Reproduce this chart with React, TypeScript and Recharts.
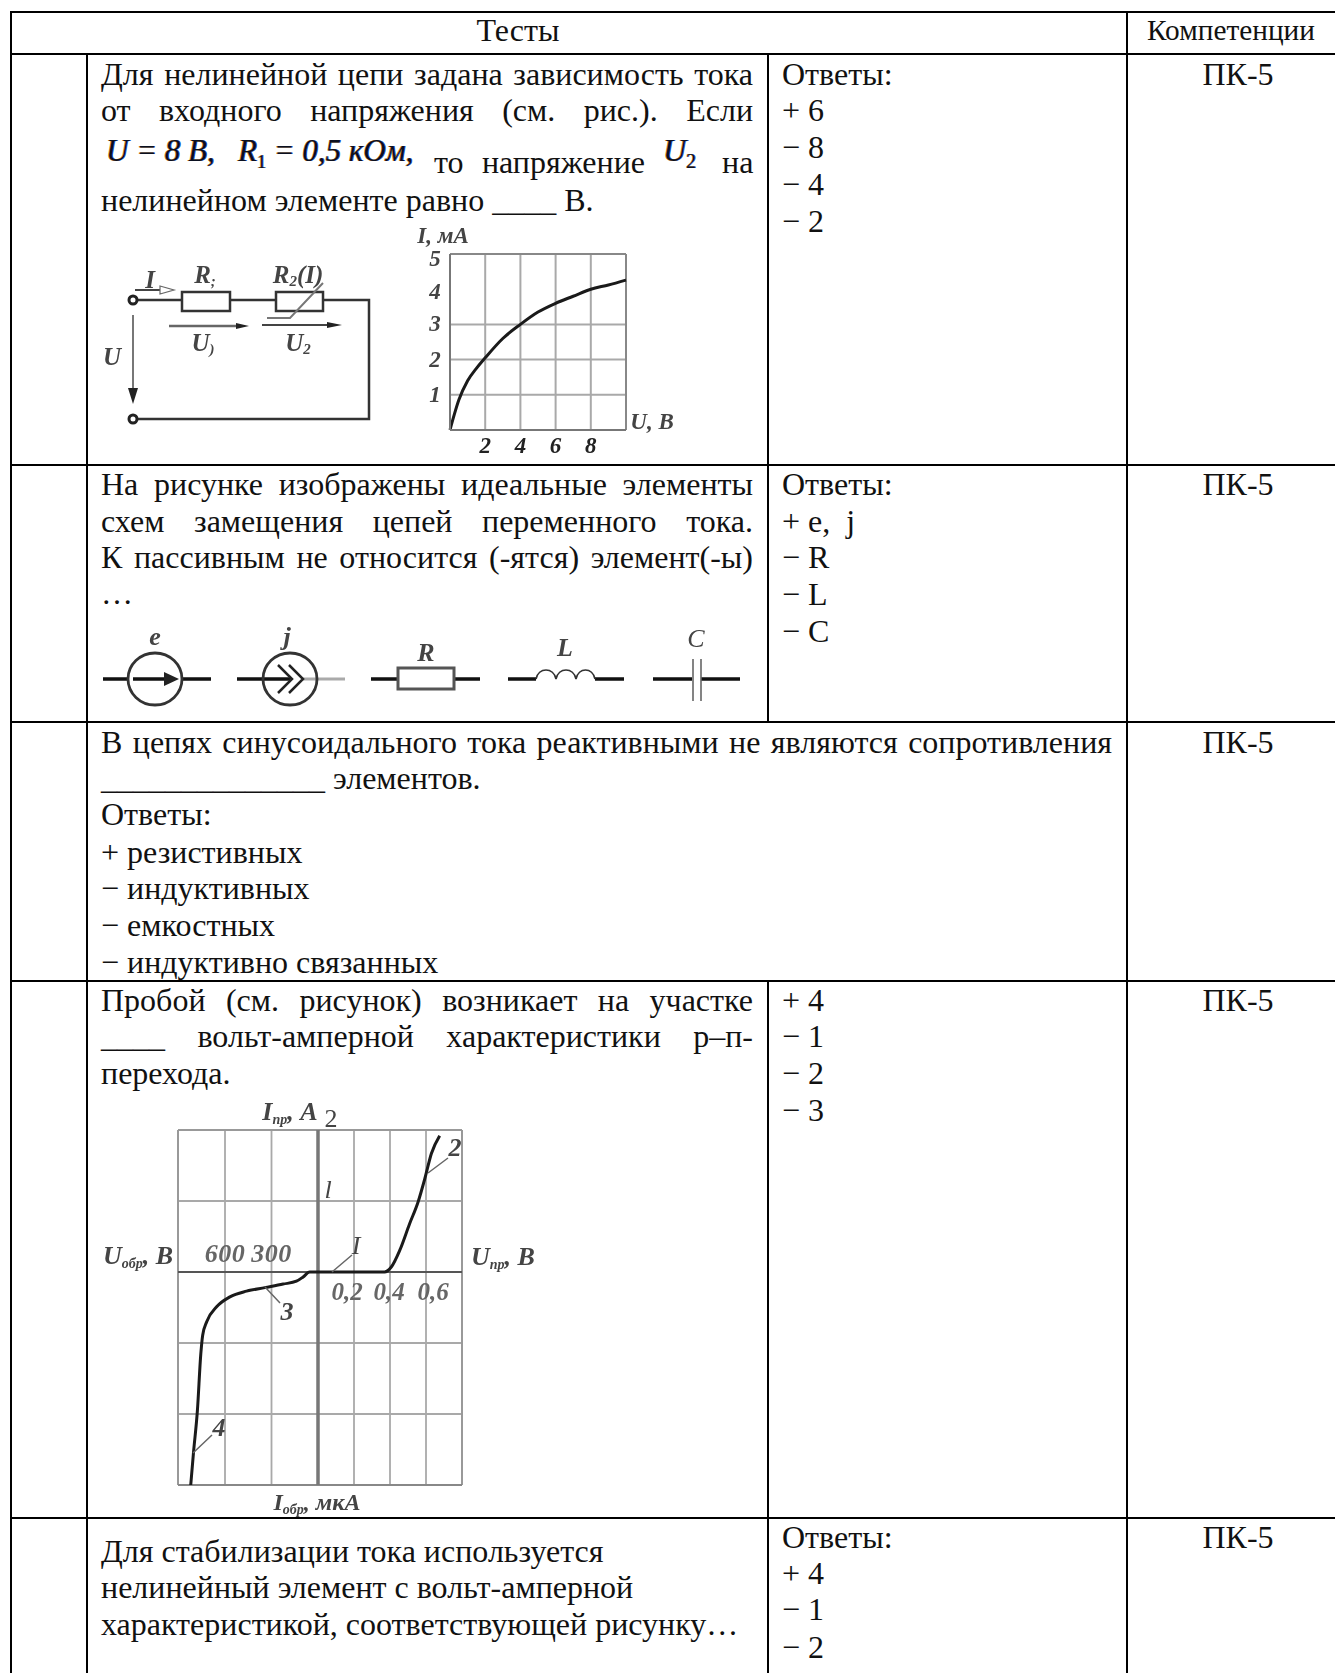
import React from "react";
import { LineChart, Line, XAxis, YAxis, CartesianGrid, ReferenceLine, ReferenceDot } from "recharts";

// Chart 1: I(U) of the nonlinear element
const curveU = [0, 0.25, 0.5, 1, 1.5, 2, 3, 4, 5, 6, 7, 8, 9, 10];
const curveI = [0, 0.45, 0.85, 1.4, 1.75, 2.05, 2.6, 3.0, 3.35, 3.6, 3.8, 4.0, 4.12, 4.26];
const xTicks1 = [2, 4, 6, 8];
const yTicks1 = [1, 2, 3, 4, 5];
const xGrid1 = [2, 4, 6, 8, 10];
const yGrid1 = [1, 2, 3, 5];

// Chart 2: p-n junction I-V (forward volts / amps, reverse volts / scale cells)
const forwardV = [0, 0.37, 0.407, 0.454, 0.509, 0.556, 0.593, 0.63, 0.676];
const forwardI = [0, 0, 0.07, 0.305, 0.68, 0.986, 1.31, 1.67, 1.92];
const reverseV = [0, 54, 96, 139, 225, 343, 461, 568, 654, 718, 744, 756, 778, 804, 821];
const reverseI = [0, 0, -0.07, -0.13, -0.17, -0.22, -0.27, -0.35, -0.49, -0.7, -0.89, -1.15, -1.95, -2.56, -3.0];
const forwardTicks = [0.2, 0.4, 0.6];
const reverseTicks = [300, 600];
const yGrid2 = [-2, -1, 1];

const posF = (v: number) => (v / 0.2) * 36;
const posR = (v: number) => (-v / 300) * 46.5;

const data1 = curveU.map((u, i) => ({ u, i: curveI[i] }));
const data2 = [
  ...reverseV.map((v, i) => ({ x: posR(v), y: reverseI[i] })).reverse(),
  ...forwardV.slice(1).map((v, i) => ({ x: posF(v), y: forwardI[i + 1] })),
];

const SERIF = "'Liberation Serif', serif";
const FS = 32;
const LH = 36;

function T({ x, y, w, c, size = FS, children }: any) {
  const style: React.CSSProperties = {
    position: "absolute",
    left: x,
    top: y - LH / 2 - 1,
    height: LH,
    lineHeight: LH + "px",
    fontSize: size,
    fontFamily: SERIF,
    color: "#111",
    whiteSpace: "pre",
  };
  if (w) {
    style.width = w;
    style.textAlign = c ? "center" : "justify";
    if (!c) (style as any).textAlignLast = "justify";
    if (!c) style.whiteSpace = "normal";
  }
  return <div style={style}>{children}</div>;
}

const PK = [75, 485, 743, 1001, 1538];
const H = [11, 53, 464, 721, 980, 1517];
const V = [10, 86, 767, 1126];

const GL = "#a9a9a9";
const LBL = { fontFamily: SERIF, fontStyle: "italic", fontWeight: 700, fill: "#444" } as const;

function Tick1X(p: any) {
  return <text x={p.x} y={p.y + 15} textAnchor="middle" fontSize={23} {...LBL} fill="#222">{p.payload.value}</text>;
}
function Tick1Y(p: any) {
  const dy = p.payload.value === 5 ? 12 : p.payload.value === 4 ? 10 : 7;
  return <text x={p.x - 7} y={p.y + dy} textAnchor="middle" fontSize={23} {...LBL}>{p.payload.value}</text>;
}
const tickDx = [-7, -1, 7];
function ForwardLabel(i: number, text: string) {
  return (p: any) => (
    <text x={p.cx + tickDx[i]} y={p.cy + 28} textAnchor="middle" fontSize={25} {...LBL} fill="#666">{text}</text>
  );
}
function ReverseLabel(text: string) {
  return (p: any) => (
    <text x={p.cx} y={p.cy - 10} textAnchor="middle" fontSize={26} letterSpacing={0.5} {...LBL} fill="#666">{text}</text>
  );
}

function Schem() {
  const S = { fontFamily: SERIF, fontStyle: "italic", fontWeight: 700, fill: "#444", textAnchor: "middle" } as any;
  return (
    <svg width={1335} height={1673} style={{ position: "absolute", left: 0, top: 0, filter: "blur(0.45px)" }} fill="none">
      {/* circuit */}
      <g stroke="#333" strokeWidth={2.5}>
        <path d="M138 300H182M230 300H276M323 300H369V419H138" />
        <circle cx={133} cy={300} r={4} stroke="#222" strokeWidth={3} />
        <circle cx={133} cy={419} r={4} stroke="#222" strokeWidth={3} />
        <rect x={182} y={292} width={48} height={19} />
        <rect x={276} y={292} width={47} height={19} />
      </g>
      <path d="M267 318H290L323 283" stroke="#777" strokeWidth={2} />
      <path d="M135 290H160" stroke="#444" strokeWidth={2} />
      <path d="M160 286L174 290L160 294Z" stroke="#666" strokeWidth={1.2} />
      <path d="M169 326H240" stroke="#666" strokeWidth={2.5} />
      <path d="M236 323L249 326L236 329Z" fill="#222" />
      <path d="M262 325H332" stroke="#444" strokeWidth={2} />
      <path d="M327 322L342 325L327 328Z" fill="#222" />
      <path d="M133 315V395" stroke="#777" strokeWidth={2} />
      <path d="M128 388L133 404L138 388Z" fill="#222" />
      <g {...S} fontSize={25}>
        <text x={150} y={288}>I</text>
        <text x={205} y={283}>R<tspan fontSize={15} dy={3}>;</tspan></text>
        <text x={298} y={283}>R<tspan fontSize={15} dy={3}>2</tspan><tspan dy={-3}>(I)</tspan></text>
        <text x={203} y={351}>U<tspan fontSize={15} dy={3}>)</tspan></text>
        <text x={298} y={351}>U<tspan fontSize={15} dy={3}>2</tspan></text>
        <text x={112} y={365}>U</text>
        <text x={443} y={243} fontSize={23}>I, мА</text>
        <text x={652} y={429} fontSize={23}>U, В</text>
      </g>
      {/* ideal elements */}
      <g stroke="#111" strokeWidth={3.5}>
        <path d="M103 679H129M183 679H211" />
        <path d="M133 679H168" />
        <path d="M237 679H290" />
        <path d="M371 679H398M454 679H480" />
        <path d="M508 679H536M595 679H624" />
        <path d="M653 679H692M701 679H740" />
      </g>
      <path d="M302 679H345" stroke="#aaa" strokeWidth={3} />
      <path d="M164 672L179 679L164 686Z" fill="#222" />
      <ellipse cx={155} cy={679} rx={27} ry={26} stroke="#333" strokeWidth={2.8} />
      <ellipse cx={290} cy={679} rx={27} ry={26} stroke="#333" strokeWidth={2.8} />
      <path d="M278 665L292 679L278 693M289 665L303 679L289 693" stroke="#222" strokeWidth={2.5} />
      <rect x={398} y={668} width={56} height={21} stroke="#555" strokeWidth={3} />
      <path d="M536 679C538 667 554 667 556 679C558 667 574 667 576 679C578 667 593 667 595 679" stroke="#333" strokeWidth={1.6} />
      <path d="M693 659V701M701 659V701" stroke="#666" strokeWidth={1.6} />
      <g {...S} fontSize={26}>
        <text x={155} y={645}>e</text>
        <text x={287} y={645}>j</text>
        <text x={426} y={661}>R</text>
        <text x={565} y={656}>L</text>
        <text x={696} y={647} fontWeight={400}>C</text>
      </g>
      {/* diode annotations */}
      <path d="M332 1272L352 1255M265 1287L280 1303M428 1173L448 1158M193 1453L212 1435" stroke="#666" strokeWidth={1.5} />
      <g {...S} fontSize={26}>
        <text x={290} y={1120}>I<tspan fontSize={14} dy={4}>пр</tspan><tspan dy={-4}>, А</tspan></text>
        <text x={331} y={1127} fontStyle="normal" fontWeight={400}>2</text>
        <text x={328} y={1198} fontWeight={400}>l</text>
        <text x={138} y={1264}>U<tspan fontSize={14} dy={4}>обр</tspan><tspan dy={-4}>, В</tspan></text>
        <text x={356} y={1254} fontWeight={400}>I</text>
        <text x={503} y={1265}>U<tspan fontSize={14} dy={4}>пр</tspan><tspan dy={-4}>, В</tspan></text>
        <text x={287} y={1320}>3</text>
        <text x={455} y={1156}>2</text>
        <text x={219} y={1436}>4</text>
        <text x={317} y={1510} fontSize={24}>I<tspan fontSize={14} dy={4}>обр</tspan><tspan dy={-4}>, мкА</tspan></text>
      </g>
    </svg>
  );
}

export default function App() {
  const formula: React.CSSProperties = {
    position: "absolute",
    fontFamily: SERIF,
    fontStyle: "italic",
    lineHeight: "36px",
    color: "#0a1020",
    whiteSpace: "pre",
    textShadow: "-0.7px 0 #d08a2a, 0.7px 0 #2a5ad0",
  };
  return (
    <div style={{ position: "absolute", left: 0, top: 0, width: 1335, height: 1673, overflow: "hidden", background: "#fff" }}>
      {H.map((y) => (
        <div key={y} style={{ position: "absolute", left: 10, top: y, width: 1325, height: 2, background: "#000" }} />
      ))}
      {V.map((x) => (
        <div key={x} style={{ position: "absolute", left: x, top: x === 10 || x === 1126 ? 11 : 54, width: 2, height: 1673, background: "#000" }} />
      ))}
      {/* the third column is merged in the row without a separate answers cell */}
      <div style={{ position: "absolute", left: 766, top: 723, width: 4, height: 257, background: "#fff" }} />

      <T x={11} y={31} w={1014} c>Тесты</T>
      <T x={1127} y={31} w={208} c size={29.3}>Компетенции</T>
      {PK.map((y) => (
        <T key={y} x={1127} y={y} w={222} c>ПК-5</T>
      ))}

      <T x={101} y={75} w={652}>Для нелинейной цепи задана зависимость тока</T>
      <T x={101} y={111} w={652}>от входного напряжения (см. рис.). Если</T>
      <div style={{ ...formula, left: 106, top: 133, fontSize: 31, fontWeight: 400 }}>
        {"U = 8 В,   R"}<sub style={{ fontSize: 18, fontStyle: "normal", lineHeight: 0 }}>1</sub>{" = 0,5 кОм,"}
      </div>
      <T x={434} y={163} w={211}>то напряжение</T>
      <div style={{ ...formula, left: 663, top: 132, fontSize: 32 }}>
        {"U"}<sub style={{ fontSize: 20, fontStyle: "normal", lineHeight: 0 }}>2</sub>
      </div>
      <T x={722} y={163}>на</T>
      <T x={101} y={201}>нелинейном элементе равно ____ В.</T>

      <T x={782} y={75}>Ответы:</T>
      <T x={782} y={111}>+ 6</T>
      <T x={782} y={148}>− 8</T>
      <T x={782} y={185}>− 4</T>
      <T x={782} y={222}>− 2</T>

      <T x={101} y={485} w={652}>На рисунке изображены идеальные элементы</T>
      <T x={101} y={522} w={652}>схем замещения цепей переменного тока.</T>
      <T x={101} y={558} w={652}>К пассивным не относится (-ятся) элемент(-ы)</T>
      <T x={101} y={594}>…</T>
      <T x={782} y={485}>Ответы:</T>
      <T x={782} y={522}>+ e,  j</T>
      <T x={782} y={558}>− R</T>
      <T x={782} y={595}>− L</T>
      <T x={782} y={632}>− C</T>

      <T x={101} y={743} w={1011}>В цепях синусоидального тока реактивными не являются сопротивления</T>
      <T x={101} y={779}>______________ элементов.</T>
      <T x={101} y={815}>Ответы:</T>
      <T x={101} y={853}>+ резистивных</T>
      <T x={101} y={889}>− индуктивных</T>
      <T x={101} y={926}>− емкостных</T>
      <T x={101} y={963}>− индуктивно связанных</T>

      <T x={101} y={1001} w={652}>Пробой (см. рисунок) возникает на участке</T>
      <T x={101} y={1037} w={652}>____ вольт-амперной характеристики р–п-</T>
      <T x={101} y={1074}>перехода.</T>
      <T x={782} y={1001}>+ 4</T>
      <T x={782} y={1037}>− 1</T>
      <T x={782} y={1074}>− 2</T>
      <T x={782} y={1111}>− 3</T>

      <T x={101} y={1552}>Для стабилизации тока используется</T>
      <T x={101} y={1588}>нелинейный элемент с вольт-амперной</T>
      <T x={101} y={1625}>характеристикой, соответствующей рисунку…</T>
      <T x={782} y={1538}>Ответы:</T>
      <T x={782} y={1574}>+ 4</T>
      <T x={782} y={1610}>− 1</T>
      <T x={782} y={1648}>− 2</T>

      <div style={{ position: "absolute", left: 400, top: 235, filter: "blur(0.45px)" }}>
        <LineChart width={240} height={225} data={data1} margin={{ top: 19, right: 14, left: 0, bottom: 0 }}>
          <CartesianGrid stroke={GL} strokeWidth={2} horizontalValues={yGrid1} verticalValues={xGrid1} />
          <XAxis type="number" dataKey="u" domain={[0, 10]} ticks={xTicks1} tick={Tick1X} tickLine={false} height={30} stroke="#777" strokeWidth={2} />
          <YAxis type="number" domain={[0, 5]} ticks={yTicks1} tick={Tick1Y} tickLine={false} width={50} stroke="#777" strokeWidth={2} />
          <ReferenceLine y={5} stroke="#888" strokeWidth={2} />
          <ReferenceLine x={10} stroke="#888" strokeWidth={2} />
          <Line dataKey="i" type="monotone" stroke="#1a1a1a" strokeWidth={3} dot={false} isAnimationActive={false} />
        </LineChart>
      </div>

      <div style={{ position: "absolute", left: 170, top: 1120, filter: "blur(0.45px)" }}>
        <LineChart width={300} height={375} data={data2} margin={{ top: 10, right: 8, left: 8, bottom: 10 }}>
          <XAxis hide type="number" dataKey="x" domain={[-140, 144]} />
          <YAxis hide type="number" domain={[-3, 2]} />
          {[...reverseTicks.map(posR), ...forwardTicks.map(posF)].map((x) => (
            <ReferenceLine key={x} x={x} stroke={GL} strokeWidth={1.8} />
          ))}
          {yGrid2.map((y) => (
            <ReferenceLine key={y} y={y} stroke={GL} strokeWidth={1.8} />
          ))}
          <ReferenceLine x={-140} stroke="#999" strokeWidth={2} />
          <ReferenceLine x={144} stroke="#999" strokeWidth={2} />
          <ReferenceLine y={2} stroke="#999" strokeWidth={2} />
          <ReferenceLine y={-3} stroke="#888" strokeWidth={2} />
          <ReferenceLine x={0} stroke="#777" strokeWidth={3.5} />
          <ReferenceLine y={0} stroke="#555" strokeWidth={2} />
          {reverseTicks.map((v) => (
            <ReferenceDot key={v} x={posR(v)} y={0} r={0} shape={ReverseLabel(String(v))} />
          ))}
          {forwardTicks.map((v, i) => (
            <ReferenceDot key={v} x={posF(v)} y={0} r={0} shape={ForwardLabel(i, String(v).replace(".", ","))} />
          ))}
          <Line dataKey="y" type="monotone" stroke="#1a1a1a" strokeWidth={3} dot={false} isAnimationActive={false} />
        </LineChart>
      </div>

      <Schem />
    </div>
  );
}
